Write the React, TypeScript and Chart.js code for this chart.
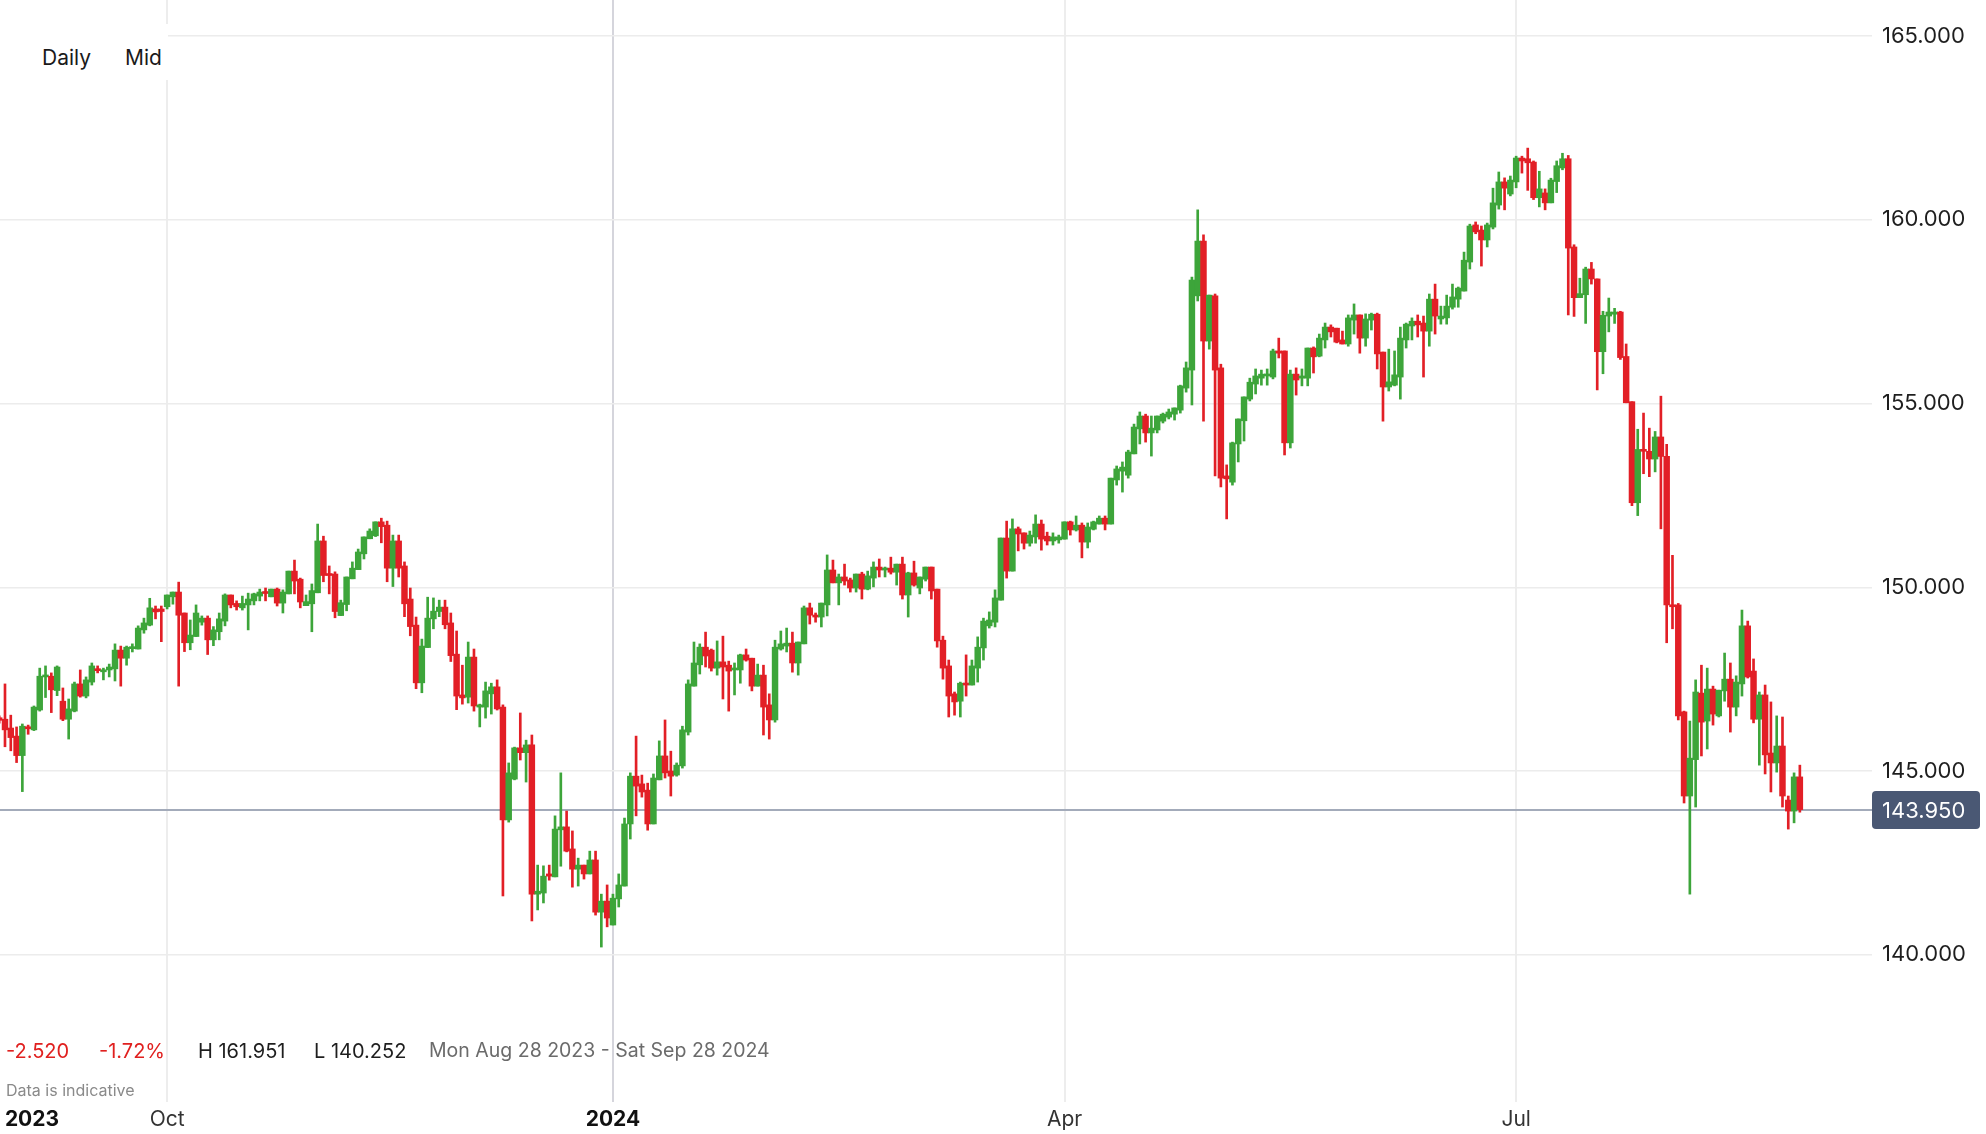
import React, { useEffect, useRef } from 'react';
import { Chart, registerables } from 'chart.js';

Chart.register(...registerables);

// Daily candles (Sun–Fri sessions), index 0 = first (partly hidden) candle at the left edge
const OPEN = [
  146.45, 146.41, 146.17, 145.95, 145.42, 146.2, 146.12, 146.66, 147.56, 147.58, 147.19, 146.9, 146.41, 146.63, 147.37, 147.04, 147.42, 147.76, 147.7, 147.75,
  147.78, 148.29, 148.07, 148.33, 148.32, 148.84, 148.97, 149.41, 149.41, 149.47, 149.74, 149.87, 149.3, 148.49, 148.66, 149.05, 149.16, 148.57, 148.79, 149.08,
  149.79, 149.56, 149.44, 149.52, 149.63, 149.76, 149.87, 149.74, 149.95, 149.57, 149.82, 150.44, 150.22, 149.5, 149.55, 149.85, 151.26, 150.36, 150.36, 149.23,
  149.53, 150.23, 150.48, 150.91, 151.32, 151.4, 151.78, 151.69, 150.52, 151.26, 150.58, 149.68, 148.97, 147.4, 148.36, 149.14, 149.34, 149.46, 149.03, 148.18,
  147.07, 147.01, 148.1, 146.74, 146.74, 147.1, 147.29, 146.74, 143.67, 144.78, 145.63, 145.5, 145.71, 141.65, 141.68, 142.2, 142.12, 143.4, 143.48, 142.88,
  142.33, 142.44, 142.2, 142.58, 141.16, 141.46, 140.81, 141.52, 141.87, 143.56, 144.86, 144.65, 144.48, 143.56, 144.76, 145.41, 145.0, 144.89, 145.14, 146.06,
  147.31, 147.89, 148.37, 148.29, 147.8, 147.97, 147.88, 147.75, 147.75, 148.16, 148.07, 147.31, 147.61, 146.8, 146.39, 148.32, 148.4, 148.48, 147.94, 148.46,
  149.44, 149.24, 149.19, 149.52, 150.47, 150.12, 150.28, 150.2, 149.98, 150.36, 149.95, 150.25, 150.55, 150.47, 150.52, 150.41, 150.63, 149.79, 150.39, 149.98,
  150.22, 150.55, 149.95, 148.56, 147.86, 147.1, 146.9, 147.39, 147.34, 147.8, 148.35, 148.95, 149.05, 149.65, 151.34, 150.44, 151.59, 151.48, 151.2, 151.37,
  151.72, 151.39, 151.26, 151.29, 151.31, 151.78, 151.56, 151.69, 151.23, 151.58, 151.72, 151.88, 151.72, 152.92, 153.16, 153.05, 153.63, 154.31, 154.66, 154.2,
  154.28, 154.52, 154.63, 154.71, 154.82, 155.42, 155.91, 157.93, 159.42, 156.7, 157.93, 155.97, 153.03, 152.86, 153.9, 154.53, 155.12, 155.53, 155.69, 155.75,
  155.72, 156.43, 156.43, 153.93, 155.8, 155.69, 155.69, 156.51, 156.29, 156.73, 157.08, 157.05, 156.73, 156.62, 157.27, 157.41, 156.78, 157.27, 157.43, 156.4,
  155.45, 155.5, 155.72, 156.73, 157.11, 157.24, 157.19, 156.97, 157.84, 157.3, 157.33, 157.62, 157.84, 158.06, 158.85, 159.86, 159.72, 159.45, 159.8, 160.4,
  161.03, 160.7, 161.03, 161.68, 161.66, 161.57, 160.6, 160.73, 160.46, 161.04, 161.41, 161.66, 159.26, 157.88, 157.96, 158.66, 158.39, 156.41, 157.38, 157.43,
  157.49, 156.28, 155.05, 152.3, 153.75, 153.7, 153.49, 154.09, 153.56, 149.52, 149.52, 146.61, 144.32, 145.31, 147.12, 146.36, 147.23, 146.5, 147.18, 147.5,
  146.74, 147.37, 148.95, 147.72, 146.41, 147.07, 145.49, 145.22, 145.68, 144.21, 143.91, 144.84,
];
const HIGH = [
  146.5, 147.37, 146.52, 146.2, 146.28, 146.25, 146.77, 147.8, 147.86, 147.67, 147.86, 147.26, 146.96, 147.42, 147.75, 147.56, 147.94, 147.86, 147.8, 147.91,
  148.46, 148.4, 148.4, 148.46, 148.95, 149.16, 149.7, 149.49, 149.49, 149.79, 149.87, 150.14, 149.3, 149.11, 149.52, 149.22, 149.22, 148.93, 149.3, 149.82,
  149.79, 149.63, 149.76, 149.84, 149.84, 149.95, 149.98, 149.95, 149.98, 149.93, 150.44, 150.74, 150.25, 149.79, 150.09, 151.72, 151.39, 150.58, 150.42, 149.65,
  150.28, 150.69, 151.04, 151.37, 151.59, 151.78, 151.88, 151.8, 151.42, 151.42, 150.69, 149.98, 149.19, 148.59, 149.73, 149.71, 149.65, 149.65, 149.3, 148.81,
  147.88, 148.51, 148.32, 146.82, 147.42, 147.39, 147.48, 146.8, 145.22, 145.65, 146.58, 145.84, 145.98, 142.44, 142.42, 142.44, 143.78, 144.95, 143.91, 143.37,
  142.63, 142.44, 142.82, 142.82, 141.65, 141.9, 141.65, 142.2, 143.72, 144.95, 145.95, 144.89, 144.67, 144.92, 145.82, 146.39, 145.54, 145.22, 146.22, 147.48,
  148.51, 148.46, 148.78, 148.32, 148.54, 148.67, 147.99, 147.94, 148.18, 148.32, 148.07, 147.91, 147.88, 147.1, 148.56, 148.81, 148.89, 148.78, 148.51, 149.49,
  149.57, 149.3, 149.57, 150.88, 150.74, 150.36, 150.63, 150.25, 150.36, 150.41, 150.44, 150.69, 150.77, 150.55, 150.82, 150.63, 150.82, 150.41, 150.71, 150.28,
  150.55, 150.55, 149.95, 148.67, 148.02, 147.15, 147.42, 148.16, 148.02, 148.65, 149.16, 149.33, 149.93, 151.34, 151.8, 151.86, 151.64, 151.48, 151.53, 151.97,
  151.83, 151.5, 151.48, 151.42, 151.78, 151.8, 151.94, 151.75, 151.75, 151.8, 151.94, 151.94, 152.97, 153.3, 153.41, 153.73, 154.44, 154.77, 154.71, 154.66,
  154.66, 154.74, 154.85, 154.88, 155.5, 156.13, 158.44, 160.27, 159.59, 157.95, 157.98, 156.07, 153.33, 153.95, 154.58, 155.18, 155.69, 155.94, 155.91, 155.94,
  156.48, 156.78, 156.43, 155.91, 155.97, 155.94, 156.51, 156.54, 156.89, 157.19, 157.14, 157.05, 156.97, 157.41, 157.71, 157.41, 157.44, 157.46, 157.46, 156.4,
  156.48, 156.43, 157.08, 157.19, 157.33, 157.41, 157.38, 157.98, 158.25, 157.65, 157.95, 158.25, 158.17, 159.12, 159.88, 159.94, 159.83, 159.91, 160.86, 161.3,
  161.14, 161.19, 161.73, 161.73, 161.95, 161.6, 161.32, 160.84, 161.13, 161.6, 161.81, 161.75, 159.32, 158.41, 158.71, 158.84, 158.39, 157.51, 157.87, 157.59,
  157.51, 156.62, 155.05, 154.3, 154.74, 154.33, 154.24, 155.2, 153.89, 150.87, 149.56, 146.63, 146.36, 147.48, 147.88, 147.8, 147.31, 147.2, 148.21, 147.94,
  147.59, 149.38, 149.08, 148.05, 147.15, 147.34, 146.88, 146.5, 146.47, 144.32, 144.95, 145.16,
];
const LOW = [
  146.3, 145.66, 145.55, 145.23, 144.44, 146.0, 146.1, 146.63, 147.0, 146.59, 147.05, 146.37, 145.87, 146.61, 147.01, 146.99, 147.34, 147.67, 147.48, 147.56,
  147.45, 147.31, 147.88, 148.24, 148.32, 148.75, 148.95, 149.14, 148.52, 149.41, 149.54, 147.31, 148.25, 148.3, 148.66, 148.97, 148.17, 148.41, 148.57, 148.95,
  149.44, 149.38, 149.38, 148.84, 149.52, 149.63, 149.63, 149.74, 149.49, 149.3, 149.82, 149.82, 149.44, 149.5, 148.79, 149.85, 150.15, 149.82, 149.17, 149.23,
  149.36, 150.23, 150.48, 150.77, 151.32, 151.38, 151.21, 150.15, 150.02, 150.28, 149.2, 148.68, 147.24, 147.13, 148.36, 148.87, 149.2, 148.87, 147.98, 146.67,
  146.82, 146.85, 146.63, 146.2, 146.44, 146.55, 146.66, 141.6, 143.61, 144.76, 145.3, 144.7, 140.92, 141.22, 141.41, 142.03, 142.12, 142.41, 142.8, 141.84,
  141.87, 142.06, 142.2, 141.08, 140.21, 140.76, 140.81, 141.3, 141.87, 143.15, 143.78, 144.29, 143.39, 143.56, 144.76, 144.81, 144.32, 144.86, 145.08, 145.98,
  147.31, 147.64, 147.83, 147.72, 147.61, 146.96, 146.63, 147.07, 147.39, 147.99, 147.18, 147.31, 145.98, 145.87, 146.33, 148.29, 148.24, 147.69, 147.61, 148.46,
  149.0, 149.05, 148.92, 149.22, 150.12, 149.52, 150.06, 149.87, 149.87, 149.68, 149.93, 150.01, 150.28, 150.28, 150.36, 150.06, 149.68, 149.19, 150.03, 149.82,
  150.17, 149.68, 148.37, 147.5, 146.47, 146.52, 146.47, 147.04, 147.34, 147.42, 148.02, 148.89, 148.92, 149.65, 150.25, 150.44, 150.99, 151.04, 151.12, 151.2,
  151.01, 151.15, 151.15, 151.2, 151.31, 151.42, 151.53, 150.8, 151.07, 151.56, 151.72, 151.56, 151.72, 152.78, 152.59, 152.97, 153.63, 153.9, 153.95, 153.57,
  154.2, 154.47, 154.58, 154.55, 154.74, 155.31, 154.96, 157.79, 154.52, 156.48, 153.03, 152.73, 151.86, 152.78, 153.41, 153.98, 155.07, 155.26, 155.5, 155.5,
  155.67, 156.24, 153.6, 153.79, 155.23, 155.48, 155.48, 155.83, 156.27, 156.51, 156.81, 156.65, 156.62, 156.56, 156.89, 156.37, 156.56, 157.0, 155.94, 154.52,
  155.34, 155.48, 155.12, 156.51, 156.73, 156.81, 155.72, 156.56, 156.89, 157.16, 157.16, 157.57, 157.62, 158.06, 158.66, 159.62, 158.74, 159.26, 159.75, 160.29,
  160.27, 160.65, 160.87, 161.27, 160.8, 160.55, 160.35, 160.27, 160.46, 160.74, 161.36, 157.41, 157.37, 157.88, 157.18, 158.25, 155.37, 155.81, 156.95, 157.18,
  156.2, 155.02, 152.22, 151.95, 153.09, 153.01, 153.14, 151.59, 148.49, 148.87, 146.39, 144.13, 141.65, 144.02, 145.41, 145.6, 146.25, 146.47, 146.9, 146.06,
  146.5, 147.04, 147.53, 146.31, 145.16, 144.92, 144.43, 144.97, 144.02, 143.42, 143.59, 143.88,
];
const CLOSE = [
  146.38, 146.12, 145.91, 145.42, 146.22, 146.15, 146.74, 147.58, 147.6, 147.21, 147.83, 146.41, 146.69, 147.37, 147.04, 147.48, 147.86, 147.73, 147.75, 147.83,
  148.29, 148.07, 148.37, 148.37, 148.89, 149.03, 149.44, 149.33, 149.34, 149.79, 149.87, 149.24, 148.49, 148.7, 149.3, 149.16, 148.57, 148.84, 149.14, 149.79,
  149.52, 149.47, 149.56, 149.68, 149.82, 149.87, 149.83, 149.95, 149.57, 149.87, 150.44, 150.17, 149.6, 149.61, 149.91, 151.26, 150.32, 150.32, 149.34, 149.58,
  150.28, 150.52, 150.96, 151.37, 151.53, 151.78, 151.65, 150.52, 151.26, 150.52, 149.55, 148.93, 147.4, 148.4, 149.16, 149.35, 149.46, 148.98, 148.14, 147.04,
  146.99, 148.1, 146.77, 146.8, 147.18, 147.29, 146.69, 143.67, 144.95, 145.63, 145.5, 145.71, 141.65, 141.73, 142.14, 142.14, 143.42, 143.48, 142.82, 142.33,
  142.44, 142.2, 142.58, 141.16, 141.46, 141.0, 141.54, 141.9, 143.56, 144.86, 144.59, 144.43, 143.56, 144.81, 145.41, 144.95, 144.86, 145.16, 146.12, 147.37,
  147.94, 148.37, 148.13, 147.8, 147.97, 147.83, 147.72, 147.8, 148.16, 148.02, 147.31, 147.61, 146.74, 146.39, 148.37, 148.46, 148.48, 147.94, 148.51, 149.44,
  149.24, 149.19, 149.57, 150.47, 150.12, 150.28, 150.17, 149.98, 150.36, 149.95, 150.31, 150.55, 150.47, 150.52, 150.41, 150.63, 149.79, 150.39, 150.06, 150.28,
  150.55, 149.9, 148.54, 147.8, 147.04, 146.88, 147.39, 147.34, 147.86, 148.37, 149.08, 149.11, 149.71, 151.34, 150.44, 151.59, 151.45, 151.2, 151.42, 151.72,
  151.31, 151.26, 151.37, 151.37, 151.78, 151.56, 151.69, 151.23, 151.64, 151.78, 151.88, 151.72, 152.97, 153.22, 153.27, 153.68, 154.36, 154.66, 154.2, 154.33,
  154.66, 154.71, 154.77, 154.88, 155.48, 155.97, 158.36, 159.42, 156.7, 157.95, 155.91, 152.97, 152.95, 153.93, 154.58, 155.18, 155.58, 155.75, 155.8, 155.8,
  156.43, 156.37, 153.93, 155.8, 155.64, 155.75, 156.51, 156.27, 156.78, 157.08, 156.95, 156.67, 156.62, 157.33, 157.41, 156.78, 157.3, 157.43, 156.35, 155.45,
  155.59, 155.78, 156.78, 157.16, 157.24, 157.14, 156.97, 157.84, 157.38, 157.38, 157.65, 157.9, 158.14, 158.9, 159.83, 159.67, 159.45, 159.86, 160.46, 161.03,
  160.86, 161.08, 161.68, 161.6, 161.55, 160.6, 160.84, 160.46, 161.08, 161.47, 161.66, 159.23, 157.88, 157.99, 158.66, 158.39, 156.41, 157.4, 157.49, 157.49,
  156.25, 155.02, 152.3, 153.75, 153.7, 153.49, 154.09, 153.56, 149.52, 149.47, 146.5, 144.32, 145.35, 147.15, 146.33, 147.23, 146.55, 147.2, 147.5, 146.74,
  147.42, 148.95, 147.56, 146.41, 147.07, 145.44, 145.22, 145.68, 144.32, 143.91, 144.84, 143.95,
];

const X_TICK_INDEX = [5.66, 29, 106, 184, 262];
const X_TICK_LABEL = ['2023', 'Oct', '2024', 'Apr', 'Jul'];
const X_TICK_YEAR = [true, false, true, false, false];
const Y_TICKS = [140, 145, 150, 155, 160, 165];

const STATS_CHANGE = '-2.520';
const STATS_PCT = '-1.72%';
const STATS_HIGH = 'H 161.951';
const STATS_LOW = 'L 140.252';
const STATS_RANGE = 'Mon Aug 28 2023 - Sat Sep 28 2024';

const GREEN = '#3da53a';
const RED = '#e21f26';
const FONT = 'Inter, "Noto Sans", sans-serif';

function noPad(s: any) {
  s.paddingTop = 0;
  s.paddingBottom = 0;
  s.paddingLeft = 0;
  s.paddingRight = 0;
}

export default function App() {
  const ref = useRef<HTMLCanvasElement | null>(null);

  useEffect(() => {
    document.body.style.margin = '0';
    document.body.style.overflow = 'hidden';
    const idx = CLOSE.map((_, i) => i);
    const colors = idx.map((i) => (CLOSE[i] >= OPEN[i] ? GREEN : RED));
    const last = CLOSE[CLOSE.length - 1];

    const priceLine = {
      id: 'priceLine',
      beforeDatasetsDraw(chart: any) {
        const { ctx, chartArea, scales } = chart;
        const py = Math.round(scales.y.getPixelForValue(last));
        ctx.save();
        ctx.strokeStyle = '#a3abba';
        ctx.lineWidth = 2;
        ctx.beginPath();
        ctx.moveTo(chartArea.left, py);
        ctx.lineTo(chartArea.right, py);
        ctx.stroke();
        ctx.restore();
      },
      afterDraw(chart: any) {
        const { ctx, chartArea, scales } = chart;
        const py = Math.round(scales.y.getPixelForValue(last));
        const bx = chartArea.right;
        const bw = 108;
        const bh = 38;
        ctx.save();
        ctx.fillStyle = '#4a5874';
        ctx.beginPath();
        ctx.roundRect(bx, py - bh / 2, bw, bh, 4);
        ctx.fill();
        ctx.fillStyle = '#ffffff';
        ctx.font = `22px ${FONT}`;
        ctx.textBaseline = 'middle';
        ctx.textAlign = 'left';
        ctx.fillText(last.toFixed(3), bx + 10, py + 1);
        ctx.restore();
      },
    };

    const chart = new Chart(ref.current as HTMLCanvasElement, {
      type: 'bar',
      data: {
        datasets: [
          {
            label: 'body',
            data: idx.map((i) => ({ x: i, y: [OPEN[i], CLOSE[i]] })) as any,
            backgroundColor: colors,
            borderWidth: 0,
            barThickness: 5.8,
            minBarLength: 2,
            grouped: false,
          } as any,
          {
            label: 'wick',
            data: idx.map((i) => ({ x: i, y: [LOW[i], HIGH[i]] })) as any,
            backgroundColor: colors,
            borderWidth: 0,
            barThickness: 2,
            grouped: false,
          } as any,
        ],
      },
      options: {
        animation: false,
        responsive: false,
        devicePixelRatio: 1,
        layout: { padding: 0 },
        plugins: { legend: { display: false }, tooltip: { enabled: false } },
        scales: {
          x: {
            type: 'linear',
            min: 0.138,
            max: 323.46,
            offset: false,
            border: { display: false },
            grid: {
              drawTicks: false,
              offset: false,
              lineWidth: 2,
              color: (c: any) => {
                const k = X_TICK_INDEX.indexOf(c.tick ? c.tick.value : -1);
                if (k === 0) return 'rgba(0,0,0,0)';
                return X_TICK_YEAR[k] ? '#d5d5dc' : '#ededed';
              },
            },
            afterBuildTicks: (s: any) => {
              s.ticks = X_TICK_INDEX.map((v) => ({ value: v }));
            },
            afterFit: (s: any) => {
              s.height = 32;
              noPad(s);
            },
            ticks: {
              autoSkip: false,
              maxRotation: 0,
              padding: 5,
              callback: (v: any) => {
                const k = X_TICK_INDEX.indexOf(Number(v));
                return k >= 0 ? X_TICK_LABEL[k] : '';
              },
              color: (c: any) => {
                const k = X_TICK_INDEX.indexOf(c.tick ? c.tick.value : -1);
                return X_TICK_YEAR[k] ? '#111111' : '#333333';
              },
              font: (c: any) => {
                const k = X_TICK_INDEX.indexOf(c.tick ? c.tick.value : -1);
                return { family: FONT, size: 21, weight: X_TICK_YEAR[k] ? 'bold' : 'normal' } as any;
              },
            },
          },
          y: {
            type: 'linear',
            position: 'right',
            min: 135.994,
            max: 165.98,
            border: { display: false },
            grid: { drawTicks: false, color: '#ececec', lineWidth: 1.5 },
            afterBuildTicks: (s: any) => {
              s.ticks = Y_TICKS.map((v) => ({ value: v }));
            },
            afterFit: (s: any) => {
              s.width = 114;
              noPad(s);
            },
            ticks: {
              padding: 10,
              color: '#1e1e1e',
              font: { family: FONT, size: 22 },
              callback: (v: any) => Number(v).toFixed(3),
            },
          },
        },
      } as any,
      plugins: [priceLine],
    });
    return () => chart.destroy();
  }, []);

  const txt: React.CSSProperties = { position: 'absolute', fontFamily: FONT, whiteSpace: 'nowrap', lineHeight: 1 };

  return (
    <div style={{ position: 'relative', width: 1986, height: 1134, background: '#ffffff', overflow: 'hidden' }}>
      <canvas ref={ref} width={1986} height={1134} style={{ position: 'absolute', left: 0, top: 0, width: 1986, height: 1134 }} />
      <div style={{ position: 'absolute', left: 0, top: 24, width: 168, height: 56, background: '#ffffff' }} />
      <div style={{ ...txt, left: 42, top: 47, fontSize: 21, color: '#1a1a1a' }}>Daily</div>
      <div style={{ ...txt, left: 125, top: 47, fontSize: 21, color: '#1a1a1a' }}>Mid</div>
      <div style={{ ...txt, left: 6, top: 1041, fontSize: 20, color: '#e0201f' }}>{STATS_CHANGE}</div>
      <div style={{ ...txt, left: 99, top: 1041, fontSize: 20, color: '#e0201f' }}>{STATS_PCT}</div>
      <div style={{ ...txt, left: 198, top: 1041, fontSize: 20, color: '#1e1e1e' }}>{STATS_HIGH}</div>
      <div style={{ ...txt, left: 314, top: 1041, fontSize: 20, color: '#1e1e1e' }}>{STATS_LOW}</div>
      <div style={{ ...txt, left: 429, top: 1041, fontSize: 19.5, color: '#6b6b6b' }}>{STATS_RANGE}</div>
      <div style={{ ...txt, left: 6, top: 1082, fontSize: 16, color: '#8a8a8a' }}>Data is indicative</div>
    </div>
  );
}
